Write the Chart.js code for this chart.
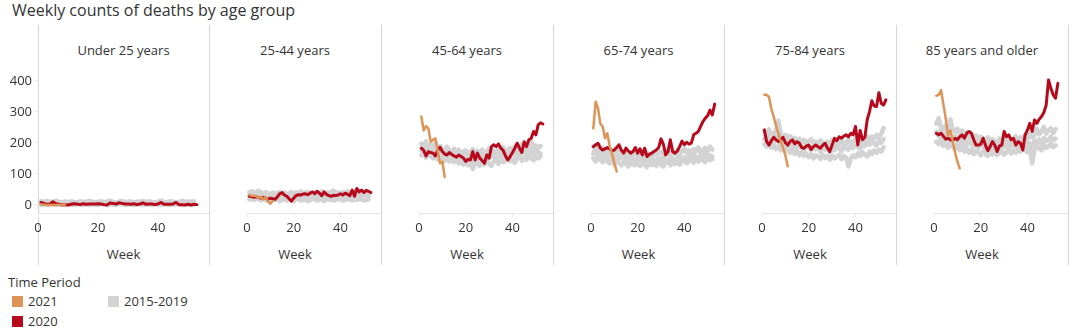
<!DOCTYPE html>
<html lang="en">
<head>
<meta charset="UTF-8">
<title>Weekly counts of deaths by age group</title>
<script src="https://cdn.jsdelivr.net/npm/chart.js"></script>
<style>
    body { margin: 0; background: #fff; font-family: "Open Sans", sans-serif; color: #333; }
    #wrap { position: relative; width: 1086px; height: 335px; overflow: hidden; }
    #title { position: absolute; left: 12px; top: 0; font-size: 16px; line-height: 20px; color: #333; }
    .sep { position: absolute; top: 25px; width: 1px; height: 240px; background: #d6d6d6; }
    .head { position: absolute; top: 40px; font-size: 13px; line-height: 20px; text-align: center; color: #333; }
    .week { position: absolute; top: 244px; font-size: 13px; line-height: 20px; text-align: center; color: #333; }
    canvas { position: absolute; top: 25px; }
    #legend { position: absolute; left: 8px; top: 273px; font-size: 13px; color: #333; }
    #legend .lt { line-height: 18px; }
    #legend .item { position: absolute; white-space: nowrap; line-height: 16px; }
    #legend .sw { display: inline-block; width: 11px; height: 11px; vertical-align: -1px; margin-right: 5px; }
</style>
</head>
<body>
<div id="wrap">
    <div id="title">Weekly counts of deaths by age group</div>
    <div id="legend">
        <div class="lt">Time Period</div>
        <div class="item" style="left:4px; top:20px;"><span class="sw" style="background:#dd9456"></span>2021</div>
        <div class="item" style="left:100px; top:20px;"><span class="sw" style="background:#d3d3d3"></span>2015-2019</div>
        <div class="item" style="left:4px; top:40px;"><span class="sw" style="background:#b60a1c"></span>2020</div>
    </div>
</div>

<script>
    var panels = ['Under 25 years', '25-44 years', '45-64 years', '65-74 years', '75-84 years', '85 years and older'];
    var yTicks = [0, 100, 200, 300, 400];
    var xTicks = [0, 20, 40];

    // 2020, weeks 1-53
    var y2020_u25 = [8,5,2,3,10,4,2,0,1,0,2,4,3,1,4,2,3,3,3,4,3,1,0,6,5,3,7,5,3,3,2,4,1,3,7,2,3,3,1,3,8,2,2,2,3,8,1,1,0,2,0,2,1];
    var y2020_25_44 = [28,27,25,26,24,22,24,21,18,22,20,18,26,36,40,32,28,20,12,22,30,33,32,35,36,33,38,42,36,44,38,30,42,34,30,28,31,30,32,36,32,38,34,30,48,28,53,42,48,40,47,44,40];
    var y2020_45_64 = [183,176,158,172,169,167,158,176,186,172,164,161,169,163,158,154,161,156,151,140,147,145,172,145,167,151,143,134,161,151,188,194,188,197,183,176,158,145,156,169,183,199,183,169,204,188,210,215,237,226,258,265,261];
    var y2020_65_74 = [188,194,199,183,177,181,185,181,174,177,185,194,177,167,183,174,167,172,185,167,181,161,183,156,163,167,172,177,185,213,196,161,172,210,172,167,174,188,206,194,202,196,199,226,231,237,253,269,280,288,306,290,325];
    var y2020_75_84 = [242,204,193,207,218,210,204,210,218,201,193,204,210,197,204,199,185,183,190,193,179,188,193,188,183,193,199,183,172,193,215,207,220,215,222,226,220,231,226,253,193,240,210,218,274,301,336,319,317,362,328,322,339];
    var y2020_85 = [231,226,231,222,212,215,210,208,215,210,220,226,215,231,237,231,210,193,193,196,215,193,175,188,204,193,172,190,193,237,220,226,210,215,193,204,199,177,226,242,263,237,274,263,276,285,298,322,403,376,355,344,392];

    // 2021, first weeks
    var y2021_u25 = [2,1,0,0,0,0,1,0,1];
    var y2021_25_44 = [32,30,30,28,22,26,18,25,10,4,12];
    var y2021_45_64 = [285,240,254,247,204,210,215,175,134,140,90];
    var y2021_65_74 = [247,333,312,262,253,215,231,190,165,135,108];
    var y2021_75_84 = [355,355,348,310,285,255,230,205,185,160,125];
    var y2021_85 = [352,355,370,325,280,225,240,205,170,140,118];

    // 2015-2019 baseline, weeks 1-52
    var base_u25 = [
        [12,10,13,9,11,14,10,8,12,9,11,10,8,12,10,9,13,11,8,10,12,9,11,14,10,8,11,13,9,10,12,8,11,10,13,9,12,10,8,11,14,10,9,12,11,8,10,13,9,11,10,12],
        [5,7,4,6,8,3,6,5,7,4,6,5,8,4,6,7,3,5,6,8,4,5,7,6,3,5,8,6,4,7,5,6,3,8,5,4,6,7,5,3,6,8,4,5,7,6,4,5,8,3,6,5],
        [0,2,0,1,3,0,2,1,0,2,1,0,3,1,0,2,0,1,2,0,3,1,0,2,1,0,2,3,0,1,2,0,1,3,0,2,1,0,2,1,0,3,1,2,0,1,2,0,1,3,0,2]
    ];
    var base_25_44 = [
        [40,44,38,42,46,40,36,42,38,34,40,36,38,42,36,40,34,38,42,36,40,38,44,36,40,42,38,36,42,40,38,44,36,40,38,42,46,38,40,36,42,38,44,40,36,42,38,46,40,42,38,36],
        [30,32,28,34,30,26,32,28,30,24,28,30,26,32,28,24,30,26,28,32,26,30,28,24,30,32,26,28,30,24,28,32,30,26,28,30,24,32,28,30,26,28,32,30,26,28,34,30,28,32,30,28],
        [18,20,16,22,18,14,20,16,18,14,20,16,18,12,16,20,14,18,16,12,18,20,14,16,18,12,16,20,18,14,16,18,12,20,16,18,14,16,20,18,14,16,18,20,14,18,16,20,18,14,16,18]
    ];
    var base_45_64 = [
        [198,188,205,185,195,180,200,176,190,182,170,188,175,168,182,165,178,160,172,176,158,170,180,162,174,166,178,160,172,183,168,175,160,180,170,186,165,178,184,170,188,176,182,195,178,190,186,204,180,192,184,190],
        [176,190,170,184,165,178,172,162,180,158,176,164,152,170,158,166,150,168,155,146,162,150,140,158,148,164,152,142,160,150,170,155,162,148,168,158,172,150,166,176,160,172,158,178,168,160,182,170,164,176,170,165],
        [160,168,152,172,158,150,164,145,155,150,142,158,140,150,138,146,134,142,130,140,128,136,116,132,140,126,138,130,144,134,126,140,146,132,150,138,142,156,140,148,136,152,158,142,150,145,160,150,144,156,150,158]
    ];
    var base_65_74 = [
        [188,178,194,172,185,176,168,182,170,178,164,175,160,172,166,158,170,162,174,156,166,172,158,168,162,154,170,160,166,172,156,168,176,160,170,164,178,166,172,182,168,176,162,180,172,186,170,178,184,172,188,178],
        [165,182,158,170,160,174,152,162,156,146,160,150,165,146,155,140,152,148,138,156,144,150,136,148,140,152,134,146,150,138,155,144,140,156,148,136,152,160,146,154,142,158,150,164,152,146,162,154,168,150,160,156],
        [150,140,160,146,138,152,140,134,148,130,142,136,128,140,132,124,138,130,128,136,126,134,130,122,138,128,134,126,140,130,124,136,142,128,138,132,144,130,140,146,134,142,150,136,146,140,152,144,138,150,144,148]
    ];
    var base_75_84 = [
        [238,225,244,220,232,240,272,230,218,226,212,222,208,216,204,214,200,210,196,206,212,198,204,194,208,200,190,204,196,210,198,206,192,208,200,196,212,204,198,214,206,218,202,214,222,208,220,214,226,218,230,248],
        [212,228,204,216,200,222,210,196,212,190,204,194,186,200,182,196,188,178,194,184,176,190,180,186,172,188,178,184,170,186,176,190,180,174,188,182,178,192,184,196,188,180,198,190,202,194,206,198,192,208,200,212],
        [196,188,206,184,194,180,190,176,186,172,182,168,178,164,174,160,170,158,166,154,164,150,160,156,148,162,152,158,146,160,150,156,162,148,158,152,124,150,160,154,166,158,170,162,156,172,164,176,168,178,172,186]
    ];
    var base_85 = [
        [262,280,250,244,256,238,276,242,236,246,228,240,222,234,216,228,212,224,208,220,214,204,218,200,212,206,196,214,202,210,198,216,204,210,222,206,218,212,226,214,230,218,224,246,228,236,252,230,240,248,232,244],
        [236,222,242,218,232,212,228,206,222,200,216,196,210,192,206,198,188,204,184,198,190,180,196,186,176,194,182,190,178,196,186,182,198,188,194,184,200,192,188,204,196,190,208,200,212,196,216,206,210,220,208,214],
        [204,196,216,190,206,184,200,188,180,194,176,188,172,182,168,178,164,174,170,160,172,164,158,170,162,176,160,168,174,162,170,178,166,174,168,180,172,184,176,170,188,134,178,190,182,176,194,184,188,198,186,192]
    ];

    var series2020 = [y2020_u25, y2020_25_44, y2020_45_64, y2020_65_74, y2020_75_84, y2020_85];
    var series2021 = [y2021_u25, y2021_25_44, y2021_45_64, y2021_65_74, y2021_75_84, y2021_85];
    var seriesBase = [base_u25, base_25_44, base_45_64, base_65_74, base_75_84, base_85];

    var seps = [38, 209, 381, 553, 724, 896, 1068];
    var wrap = document.getElementById('wrap');

    Chart.defaults.font.family = '"Open Sans", sans-serif';
    Chart.defaults.font.size = 13;
    Chart.defaults.color = '#333';

    function toPoints(arr) {
        return arr.map(function (v, i) { return { x: i + 1, y: v }; });
    }

    seps.forEach(function (x) {
        var d = document.createElement('div');
        d.className = 'sep';
        d.style.left = x + 'px';
        wrap.appendChild(d);
    });

    panels.forEach(function (name, p) {
        var left = seps[p], width = seps[p + 1] - seps[p];
        var first = p === 0;

        var h = document.createElement('div');
        h.className = 'head';
        h.style.left = left + 'px';
        h.style.width = width + 'px';
        h.textContent = name;
        wrap.appendChild(h);

        var w = document.createElement('div');
        w.className = 'week';
        w.style.left = left + 'px';
        w.style.width = width + 'px';
        w.textContent = 'Week';
        wrap.appendChild(w);

        var c = document.createElement('canvas');
        var cLeft = first ? 0 : left;
        var cWidth = first ? seps[1] : width;
        c.width = cWidth;
        c.height = 240;
        c.style.left = cLeft + 'px';
        wrap.appendChild(c);

        var datasets = [
            { data: toPoints(series2021[p]), borderColor: '#dd9456', borderWidth: 2.5, order: 0 },
            { data: toPoints(series2020[p]), borderColor: '#b60a1c', borderWidth: 3, order: 1 }
        ];
        seriesBase[p].forEach(function (arr) {
            datasets.push({ data: toPoints(arr), borderColor: '#d3d3d3', borderWidth: 4.5, order: 2 });
        });

        new Chart(c.getContext('2d'), {
            type: 'line',
            data: { datasets: datasets },
            options: {
                responsive: false,
                animation: false,
                devicePixelRatio: 1,
                layout: { padding: { top: 41, left: 0, right: 0, bottom: 0 } },
                elements: {
                    point: { radius: 0 },
                    line: { tension: 0, borderJoinStyle: 'round', borderCapStyle: 'round' }
                },
                plugins: { legend: { display: false }, tooltip: { enabled: false } },
                scales: {
                    x: {
                        type: 'linear',
                        min: 0,
                        max: width / 3,
                        afterBuildTicks: function (s) { s.ticks = xTicks.map(function (v) { return { value: v }; }); },
                        afterFit: function (s) { s.height = 52; s.paddingLeft = 0; s.paddingRight = 0; },
                        ticks: { padding: 3, maxRotation: 0 },
                        grid: { drawOnChartArea: false, drawTicks: true, tickLength: 4, color: '#ececec' },
                        border: { color: '#e6e6e6' }
                    },
                    y: {
                        display: first,
                        min: -26,
                        max: 448,
                        afterBuildTicks: function (s) { s.ticks = yTicks.map(function (v) { return { value: v }; }); },
                        afterFit: function (s) { s.width = 38; },
                        ticks: { padding: 2 },
                        grid: { drawOnChartArea: false, drawTicks: true, tickLength: 4, color: '#ececec' },
                        border: { display: false }
                    }
                }
            }
        });
    });
</script>
</body>
</html>
